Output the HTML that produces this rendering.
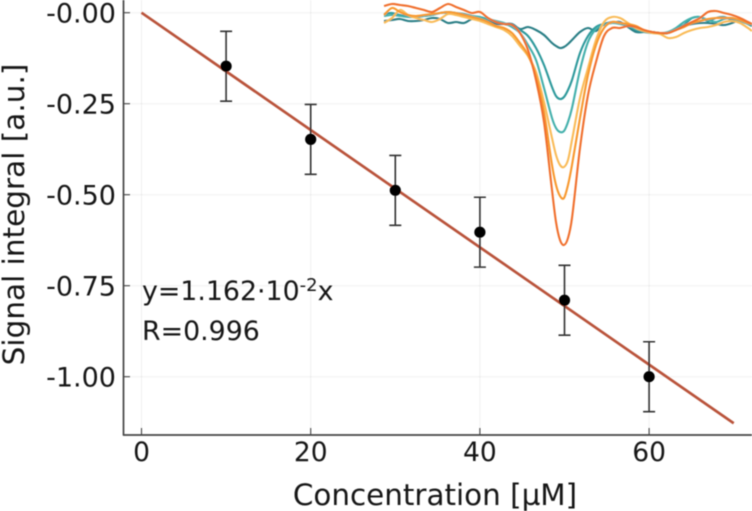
<!DOCTYPE html>
<html lang="en">
<head>
<meta charset="utf-8">
<title>Signal integral vs concentration</title>
<style>
html,body{margin:0;padding:0;background:#fff;width:752px;height:511px;overflow:hidden}
svg{display:block}
text{font-family:"DejaVu Sans","Liberation Sans",sans-serif;fill:#161616}
</style>
</head>
<body>
<svg id="chart" xmlns="http://www.w3.org/2000/svg" width="752" height="511" viewBox="0 0 752 511">
<defs><filter id="soft" x="-5%" y="-5%" width="110%" height="110%"><feGaussianBlur stdDeviation="0.45"/></filter></defs>
<g id="root" filter="url(#soft)"></g>
</svg>
<script>
const concentrations = [10, 20, 30, 40, 50, 60];
const integrals = [-0.147, -0.348, -0.488, -0.603, -0.79, -1.0];
const errors = [0.096, 0.096, 0.096, 0.096, 0.096, 0.096];
const fitX = [0, 70];
const fitY = [0, -1.128];
const xTicks = [0, 20, 40, 60];
const xTickLabels = ['0', '20', '40', '60'];
const yTicks = [0, -0.25, -0.5, -0.75, -1.0];
const yTickLabels = ['-0.00', '-0.25', '-0.50', '-0.75', '-1.00'];

const channels = [0,2,4,6,8,10,12,14,16,18,20,22,24,26,28,30,32,34,36,38,40,42,43,44,45,46,47,49,51,53,55,57,59,61,63,65,67,69,71,73,75,77,79,81,83,85,87,89,91,92];
const spectrum10 = [19,20,21,19,19,20,22,21,17,18,17,21,21,19,16,16,16,11,13,10,5,-3,-6,-8,-7,-4,0,8,12,9,16,17,18,13,8,8,8,7,7,11,14,16,17,17,16,15,17,20,16,14];
const spectrum20 = [26,27,25,24,23,24,25,27,28,27,26,24,22,20,18,16,14,10,4,-8,-25,-47,-56,-59,-57,-50,-40,-13,4,13,16,18,17,15,10,8,7,7,7,11,15,22,23,19,22,23,20,19,17,16];
const spectrum30 = [24,25,24,23,23,24,25,27,27,26,25,24,23,21,19,17,13,7,-5,-20,-48,-78,-88,-92,-91,-82,-68,-30,-2,11,15,17,16,14,11,9,8,7,8,12,18,22,23,20,18,21,22,19,16,15];
const spectrum40 = [17,22,30,25,22,20,18,21,26,25,23,21,19,16,13,10,4,-6,-16,-32,-62,-98,-115,-125,-127,-120,-100,-58,-28,0,18,23,22,17,12,9,7,6,2,3,7,10,12,13,15,18,19,17,12,9];
const spectrum50 = [25,32,28,25,24,25,26,27,28,27,25,23,21,18,14,12,7,-3,-15,-36,-72,-125,-145,-156,-158,-145,-125,-78,-35,-5,12,18,17,16,14,10,8,7,7,10,13,17,19,21,22,22,22,20,17,16];
const spectrum60 = [34,36,35,34,32,30,28,32,36,33,30,27,28,22,18,16,15,7,-10,-40,-82,-150,-182,-200,-205,-198,-178,-108,-55,-22,4,12,12,14,13,10,8,7,7,10,14,18,22,28,29,27,25,22,18,16];

const NS = 'http://www.w3.org/2000/svg';
const root = document.getElementById('root');
const xScale = v => 141.5 + v * 8.46;
const yScale = v => 12.7 - v * 364;
const insetX = c => 384 + c * 4;
const insetY = v => 40 - v;

function make(tag, attrs, parent) {
  const el = document.createElementNS(NS, tag);
  for (const k in attrs) el.setAttribute(k, attrs[k]);
  (parent || root).appendChild(el);
  return el;
}
function smoothPath(xs, ys) {
  const p = xs.map((x, i) => [insetX(x), insetY(ys[i])]);
  let d = 'M' + p[0][0] + ' ' + p[0][1];
  for (let i = 0; i < p.length - 1; i++) {
    const a = p[Math.max(i - 1, 0)], b = p[i], c = p[i + 1], e = p[Math.min(i + 2, p.length - 1)];
    const t = 1 / 6;
    const h = c[0] - b[0];
    const c1x = b[0] + h / 3;
    const c1y = b[1] + (c[1] - a[1]) * t * h / Math.max((c[0] - a[0]) / 2, 1);
    const c2x = c[0] - h / 3;
    const c2y = c[1] - (e[1] - b[1]) * t * h / Math.max((e[0] - b[0]) / 2, 1);
    d += 'C' + c1x.toFixed(2) + ' ' + c1y.toFixed(2) + ' ' + c2x.toFixed(2) + ' ' + c2y.toFixed(2) + ' ' + c[0] + ' ' + c[1];
  }
  return d;
}

// grid
xTicks.forEach(t => {
  const g = make('line', {x1: xScale(t), x2: xScale(t), y1: 0, y2: 435, stroke: '#000', 'stroke-opacity': 0.06, 'stroke-width': 1});
  
  
});
yTicks.forEach(t => {
  const g = make('line', {x1: 124, x2: 752, y1: yScale(t), y2: yScale(t), stroke: '#000', 'stroke-opacity': 0.06, 'stroke-width': 1});
  
  
});

// axes
const yAxis = make('line', {x1: 123.5, x2: 123.5, y1: 0, y2: 435.5, stroke: '#444', 'stroke-width': 1.7});


const xAxis = make('line', {x1: 123, x2: 752, y1: 435, y2: 435, stroke: '#444', 'stroke-width': 1.7});



xTicks.forEach((t, i) => {
  const tick = make('line', {x1: xScale(t), x2: xScale(t), y1: 435, y2: 428, stroke: '#444', 'stroke-width': 1.1});
  
  
  const lab = make('text', {x: xScale(t), y: 461, 'text-anchor': 'middle', 'font-size': 26.5});
  lab.textContent = xTickLabels[i];
  
  
});
yTicks.forEach((t, i) => {
  const tick = make('line', {x1: 123.5, x2: 130, y1: yScale(t), y2: yScale(t), stroke: '#444', 'stroke-width': 1.1});
  
  
  const lab = make('text', {x: 116, y: yScale(t) + 10, 'text-anchor': 'end', 'font-size': 27});
  lab.textContent = yTickLabels[i];
  
  
});

// axis titles
const xTitle = make('text', {x: 435, y: 505, 'text-anchor': 'middle', 'font-size': 29.4});
xTitle.textContent = 'Concentration [µM]';


const yTitle = make('text', {x: 0, y: 0, 'text-anchor': 'middle', 'font-size': 29.5, transform: 'translate(24 214.5) rotate(-90)'});
yTitle.textContent = 'Signal integral [a.u.]';



// inset spectra
const spectra = [
  [spectrum10, '#2b7f86', 'spectrum-10uM'],
  [spectrum20, '#2f9a9c', 'spectrum-20uM'],
  [spectrum30, '#45b0ac', 'spectrum-30uM'],
  [spectrum40, '#f9bb58', 'spectrum-40uM'],
  [spectrum50, '#f8982e', 'spectrum-50uM'],
  [spectrum60, '#f0702e', 'spectrum-60uM']
];
spectra.forEach(s => {
  const line = make('path', {d: smoothPath(channels, s[0]), fill: 'none', stroke: s[1], 'stroke-width': 2.1, 'stroke-linejoin': 'round'});
  
  
});

// fit line
const fit = make('line', {x1: xScale(fitX[0]), y1: yScale(fitY[0]), x2: xScale(fitX[1]), y2: yScale(fitY[1]), stroke: '#b9533a', 'stroke-width': 2.7});



// error bars and points
concentrations.forEach((c, i) => {
  const x = xScale(c), top = yScale(integrals[i] + errors[i]), bot = yScale(integrals[i] - errors[i]);
  const bar = make('path', {d: 'M' + x + ' ' + top + 'V' + bot + 'M' + (x - 6) + ' ' + top + 'H' + (x + 6) + 'M' + (x - 6) + ' ' + bot + 'H' + (x + 6), fill: 'none', stroke: '#333', 'stroke-width': 1.6});
  
  
  const pt = make('circle', {cx: x, cy: yScale(integrals[i]), r: 5.6, fill: '#000'});
  
  
});

// annotation
const eq = make('text', {x: 142, y: 300, 'font-size': 26.8});


const t1 = make('tspan', {}, eq); t1.textContent = 'y=1.162·10';
const t2 = make('tspan', {dy: -9, 'font-size': 18}, eq); t2.textContent = '-2';
const t3 = make('tspan', {dy: 9}, eq); t3.textContent = 'x';
const rt = make('text', {x: 142, y: 340, 'font-size': 26.8});
rt.textContent = 'R=0.996';


</script>
</body>
</html>
